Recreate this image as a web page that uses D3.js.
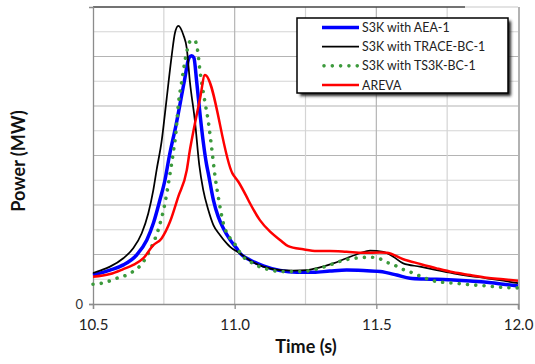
<!DOCTYPE html>
<html>
<head>
<meta charset="utf-8">
<script src="https://cdn.jsdelivr.net/npm/d3@7"></script>
<style>
  html, body { margin: 0; padding: 0; background: #fff; }
  svg { display: block; }
</style>
</head>
<body>
<svg id="chart" width="535" height="364"></svg>
<script>
// Time axis ticks (s)
const xTicks = [10.5, 11.0, 11.5, 12.0];
const xMinorTicks = [10.75, 11.25, 11.75];
const yTickLabels = ["0"];

// S3K with AEA-1
const aeaTime = [10.500,10.560,10.607,10.654,10.690,10.713,10.736,10.754,10.769,10.793,10.822,10.839,10.848,10.856,10.866,10.878,10.889,10.901,10.907,10.925,10.942,10.960,10.984,11.007,11.019,11.054,11.101,11.160,11.219,11.278,11.336,11.395,11.454,11.513,11.572,11.619,11.666,11.713,11.772,11.831,11.890,11.948,12.000];
const aeaPower = [1.17,1.37,1.58,1.98,2.59,3.26,4.20,5.01,5.95,7.23,8.98,9.95,10.03,9.95,8.98,7.64,6.56,5.62,5.28,4.20,3.53,3.06,2.59,2.25,2.05,1.78,1.54,1.35,1.28,1.28,1.33,1.37,1.35,1.31,1.17,1.04,1.01,1.00,0.97,0.93,0.88,0.80,0.73];

// S3K with TRACE-BC-1
const traceTime = [10.500,10.525,10.560,10.607,10.642,10.672,10.695,10.713,10.725,10.742,10.760,10.778,10.789,10.801,10.819,10.831,10.842,10.860,10.875,10.889,10.907,10.925,10.948,10.972,10.984,11.019,11.054,11.101,11.160,11.207,11.254,11.301,11.348,11.395,11.442,11.478,11.525,11.560,11.595,11.654,11.713,11.772,11.831,11.890,11.948,12.000];
const tracePower = [1.25,1.35,1.51,1.85,2.25,2.86,3.66,4.61,5.45,6.56,8.30,10.06,10.94,11.24,10.87,10.33,8.98,7.37,5.62,4.61,3.80,3.19,2.79,2.45,2.31,2.04,1.76,1.51,1.37,1.35,1.37,1.48,1.64,1.85,2.05,2.16,2.11,1.91,1.64,1.51,1.37,1.24,1.13,1.04,0.94,0.84];

// S3K with TS3K-BC-1
const ts3kTime = [10.500,10.531,10.584,10.631,10.678,10.707,10.730,10.754,10.772,10.783,10.793,10.801,10.813,10.831,10.842,10.858,10.868,10.878,10.895,10.907,10.919,10.931,10.942,10.960,10.984,11.007,11.019,11.060,11.113,11.172,11.231,11.290,11.336,11.389,11.425,11.478,11.507,11.537,11.560,11.584,11.613,11.636,11.666,11.689,11.719,11.748,11.778,11.831,11.890,11.948,12.000];
const ts3kPower = [0.80,0.84,1.04,1.24,1.71,2.32,2.99,4.07,5.28,6.09,6.96,8.04,8.98,10.19,10.60,10.67,10.33,9.39,8.17,7.37,6.29,5.14,4.34,3.26,2.65,2.32,2.07,1.67,1.41,1.31,1.31,1.41,1.58,1.78,1.85,1.89,1.85,1.68,1.60,1.44,1.33,1.21,1.08,0.97,0.90,0.86,0.84,0.78,0.73,0.67,0.65];

// AREVA
const arevaTime = [10.500,10.560,10.607,10.642,10.678,10.713,10.742,10.772,10.801,10.831,10.842,10.854,10.878,10.895,10.992,11.013,11.042,11.054,11.089,11.125,11.160,11.189,11.242,11.290,11.336,11.395,11.454,11.513,11.537,11.595,11.654,11.713,11.772,11.831,11.890,11.948,12.000];
const arevaPower = [1.10,1.21,1.41,1.58,1.85,2.38,2.65,3.33,4.34,5.41,6.22,6.96,8.31,9.25,5.28,4.94,4.34,4.07,3.39,2.92,2.59,2.34,2.21,2.14,2.14,2.11,2.07,2.08,2.07,1.81,1.62,1.44,1.28,1.17,1.06,1.00,0.94];

const seriesNames = ["S3K with AEA-1", "S3K with TRACE-BC-1", "S3K with TS3K-BC-1", "AREVA"];

const series = [
  { name: seriesNames[0], t: aeaTime, p: aeaPower, color: "#0000ff", width: 3.5, dash: null },
  { name: seriesNames[1], t: traceTime, p: tracePower, color: "#000000", width: 1.75, dash: null },
  { name: seriesNames[2], t: ts3kTime, p: ts3kPower, color: "#3c9a3c", width: 3.6, dash: "0.01 8.3" },
  { name: seriesNames[3], t: arevaTime, p: arevaPower, color: "#ff0000", width: 2.5, dash: null }
];

const svg = d3.select("#chart");
const font = "Lato, 'Open Sans', sans-serif";

const x = d3.scaleLinear().domain([10.5, 12.0]).range([93, 518]);
const y = d3.scaleLinear().domain([0, 12]).range([304, 7]);

// gridlines
const grid = svg.append("g");
d3.range(1, 12).forEach(v => {
  grid.append("line")
    .attr("x1", x(10.5)).attr("x2", x(12.0))
    .attr("y1", y(v)).attr("y2", y(v))
    .attr("stroke", v % 2 === 0 ? "#b4b4b4" : "#d4d4d4")
    .attr("stroke-width", 1.2);
});
xMinorTicks.forEach(v => {
  grid.append("line")
    .attr("x1", x(v)).attr("x2", x(v))
    .attr("y1", y(12)).attr("y2", y(0))
    .attr("stroke", "#d4d4d4").attr("stroke-width", 1.2);
});
xTicks.slice(1, 3).forEach(v => {
  grid.append("line")
    .attr("x1", x(v)).attr("x2", x(v))
    .attr("y1", y(12)).attr("y2", y(0))
    .attr("stroke", "#b4b4b4").attr("stroke-width", 1.2);
});

// top frame line
svg.append("line")
  .attr("x1", x(10.5)).attr("x2", 465)
  .attr("y1", y(12)).attr("y2", y(12))
  .attr("stroke", "#444").attr("stroke-width", 1.3);
svg.append("line")
  .attr("x1", 465).attr("x2", x(12.0))
  .attr("y1", y(12)).attr("y2", y(12))
  .attr("stroke", "#c8c8c8").attr("stroke-width", 1.2);
// right frame line
svg.append("line")
  .attr("x1", x(12.0) + 1).attr("x2", x(12.0) + 1)
  .attr("y1", y(12)).attr("y2", y(0) + 6)
  .attr("stroke", "#999").attr("stroke-width", 1.5);

// x axis
const xAxis = d3.axisBottom(x).tickValues(xTicks).tickSize(5).tickPadding(10)
  .tickFormat(d3.format(".1f"));
const gx = svg.append("g").attr("transform", `translate(0,${y(0)})`).call(xAxis);
gx.select(".domain").attr("stroke", "#8c8c8c").attr("stroke-width", 1.3);
gx.selectAll(".tick line").attr("stroke", "#8c8c8c").attr("stroke-width", 1.3);
gx.selectAll(".tick text").attr("font-family", font).attr("font-size", 15).attr("fill", "#222");

// y axis
const yAxis = d3.axisLeft(y).tickValues([0]).tickSize(4).tickPadding(6)
  .tickFormat((d, i) => yTickLabels[i]);
const gy = svg.append("g").attr("transform", `translate(${x(10.5)},0)`).call(yAxis);
gy.select(".domain").attr("stroke", "#8c8c8c").attr("stroke-width", 1.3);
gy.selectAll(".tick line").attr("stroke", "#8c8c8c").attr("stroke-width", 1.3);
gy.selectAll(".tick text").attr("font-family", font).attr("font-size", 13).attr("fill", "#333");

// axis titles
svg.append("text")
  .attr("x", 306).attr("y", 353)
  .attr("text-anchor", "middle")
  .attr("font-family", font).attr("font-weight", "bold").attr("font-size", 18)
  .attr("fill", "#111")
  .text("Time (s)");
svg.append("text")
  .attr("transform", "translate(25,161) rotate(-90)")
  .attr("text-anchor", "middle")
  .attr("font-family", font).attr("font-weight", "bold").attr("font-size", 18)
  .attr("fill", "#111")
  .text("Power (MW)");

// curves
const line = d3.line().curve(d3.curveMonotoneX);
const plot = svg.append("g");
series.forEach(s => {
  const pts = s.t.map((t, i) => [x(t), y(s.p[i])]);
  const path = plot.append("path")
    .attr("d", line(pts))
    .attr("fill", "none")
    .attr("stroke", s.color)
    .attr("stroke-width", s.width)
    .attr("stroke-linejoin", "round");
  if (s.dash) path.attr("stroke-dasharray", s.dash).attr("stroke-linecap", "round");
});

// legend
const defs = svg.append("defs");
defs.append("filter").attr("id", "shadow").attr("x", "-10%").attr("y", "-10%")
  .attr("width", "130%").attr("height", "140%")
  .append("feGaussianBlur").attr("stdDeviation", 1.6);

const legend = svg.append("g");
const lx = 297, ly = 18, lw = 211, lh = 75;
legend.append("rect")
  .attr("x", lx + 3).attr("y", ly + 3).attr("width", lw).attr("height", lh)
  .attr("fill", "#222").attr("filter", "url(#shadow)");
legend.append("rect")
  .attr("x", lx).attr("y", ly).attr("width", lw).attr("height", lh)
  .attr("fill", "#fff").attr("stroke", "#000").attr("stroke-width", 1.5);

const rowY = d3.scalePoint().domain(seriesNames).range([ly + 9.5, ly + 67]);
series.forEach(s => {
  const cy = rowY(s.name);
  const l = legend.append("line")
    .attr("x1", 322).attr("x2", 359)
    .attr("y1", cy).attr("y2", cy)
    .attr("stroke", s.color)
    .attr("stroke-width", s.width);
  if (s.dash) l.attr("x1", 324).attr("stroke-dasharray", s.dash).attr("stroke-linecap", "round");
  legend.append("text")
    .attr("x", 362).attr("y", cy + 4.5)
    .attr("font-family", font).attr("font-size", 12.4)
    .attr("fill", "#222")
    .text(s.name);
});
</script>
</body>
</html>
